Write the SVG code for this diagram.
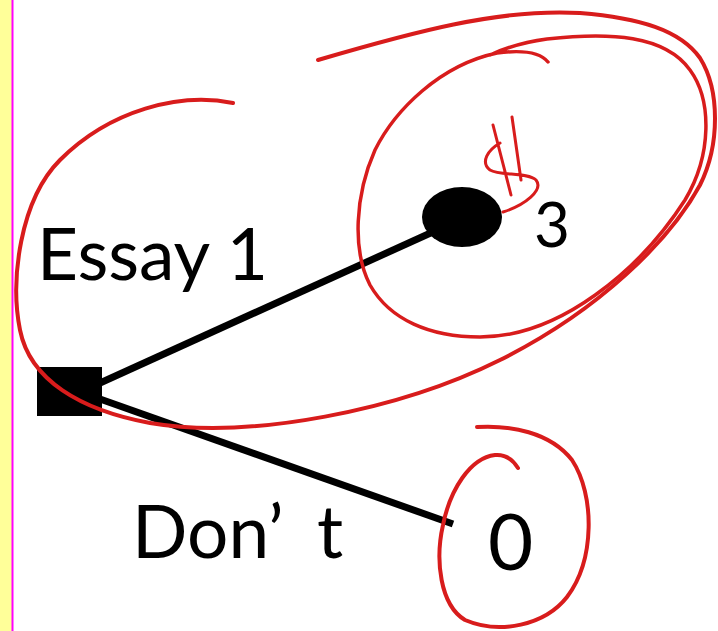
<svg xmlns="http://www.w3.org/2000/svg" width="718" height="631" viewBox="0 0 718 631">
<style>
.lbl{font-family:Lato,"Open Sans","Liberation Sans",sans-serif;fill:#000}
.ink{fill:none;stroke:#d81c1c;stroke-linecap:round;stroke-linejoin:round}
.edge{stroke:#000;stroke-width:7;stroke-linecap:butt}
</style>
<rect x="0" y="0" width="718" height="631" fill="#ffffff"/>
<rect x="0" y="0" width="12" height="631" fill="#ffff99"/>
<line x1="12.5" y1="0" x2="12.5" y2="631" stroke="#ff00ff" stroke-width="2"/>
<g id="connectors">
<line class="edge" x1="100" y1="383" x2="435" y2="231"/>
<line class="edge" x1="100" y1="399" x2="453" y2="524"/>
</g>
<g id="decision">
<rect x="37" y="367" width="65" height="49" fill="#000"/>
</g>
<g id="chance">
<ellipse cx="462" cy="217" rx="40" ry="30" fill="#000"/>
</g>
<g id="label-essay">
<text class="lbl" x="37" y="280" font-size="72" textLength="231" lengthAdjust="spacingAndGlyphs">Essay 1</text>
</g>
<g id="label-dont">
<text class="lbl" font-size="73"><tspan x="132" y="558">Don</tspan><tspan x="268" y="558">’</tspan><tspan x="317" y="558">t</tspan></text>
</g>
<g id="payoff-3">
<text class="lbl" x="534" y="247" font-size="62">3</text>
</g>
<g id="payoff-0">
<text class="lbl" x="488" y="570" font-size="78">0</text>
</g>
<g id="annotations">
<path class="ink" stroke-width="4" d="M233,103 C180,92 110,110 60,160 C20,200 10,280 20,330 C30,380 80,410 150,423 C250,440 400,410 500,360 C600,310 670,240 700,185 C720,145 720,90 700,58 C680,30 640,18 580,13 C500,8 410,33 318,60"/>
<path class="ink" stroke-width="3.5" d="M548,62 C540,52 520,50 497,53 C440,65 395,110 375,150 C355,195 352,250 370,285 C390,320 430,337 480,337 C560,337 640,270 685,200 C712,155 712,100 690,70 C665,35 610,32 547,39 C525,42 505,48 490,55"/>
<path class="ink" stroke-width="4" d="M477,427 C510,425 550,432 572,460 C595,495 595,560 567,597 C545,625 500,635 465,620 C440,605 435,560 443,525 C450,490 470,458 495,455 C505,454 513,460 518,468"/>
<path class="ink" stroke-width="3" d="M493,125 L511,195 M512,117 L521,180 M500,143 C488,150 480,162 490,170 C500,176 528,172 536,180 C544,190 525,205 503,212"/>
</g>
</svg>
